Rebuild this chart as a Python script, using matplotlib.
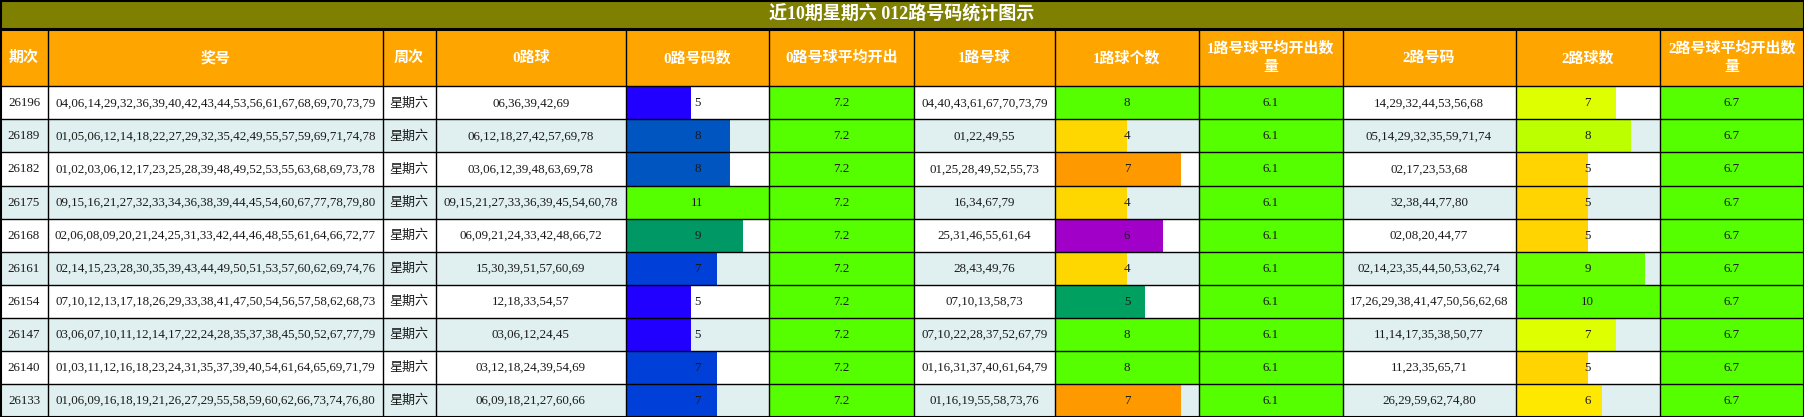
import numpy as np
import matplotlib
matplotlib.use("Agg")
import matplotlib.pyplot as plt
from matplotlib.patches import Rectangle

plt.rcParams['font.family'] = ['Liberation Serif', 'Noto Sans CJK SC', 'DejaVu Sans']

title = "近10期星期六 012路号码统计图示"
headers = ["期次", "奖号", "周次", "0路球", "0路号码数", "0路号球平均开出",
           "1路号球", "1路球个数", "1路号球平均开出数\n量", "2路号码", "2路球数",
           "2路号球平均开出数\n量"]

periods = ["26196", "26189", "26182", "26175", "26168", "26161", "26154", "26147", "26140", "26133"]
draws = [
    "04,06,14,29,32,36,39,40,42,43,44,53,56,61,67,68,69,70,73,79",
    "01,05,06,12,14,18,22,27,29,32,35,42,49,55,57,59,69,71,74,78",
    "01,02,03,06,12,17,23,25,28,39,48,49,52,53,55,63,68,69,73,78",
    "09,15,16,21,27,32,33,34,36,38,39,44,45,54,60,67,77,78,79,80",
    "02,06,08,09,20,21,24,25,31,33,42,44,46,48,55,61,64,66,72,77",
    "02,14,15,23,28,30,35,39,43,44,49,50,51,53,57,60,62,69,74,76",
    "07,10,12,13,17,18,26,29,33,38,41,47,50,54,56,57,58,62,68,73",
    "03,06,07,10,11,12,14,17,22,24,28,35,37,38,45,50,52,67,77,79",
    "01,03,11,12,16,18,23,24,31,35,37,39,40,54,61,64,65,69,71,79",
    "01,06,09,16,18,19,21,26,27,29,55,58,59,60,62,66,73,74,76,80",
]
weekday = "星期六"
road0 = ["06,36,39,42,69", "06,12,18,27,42,57,69,78", "03,06,12,39,48,63,69,78",
         "09,15,21,27,33,36,39,45,54,60,78", "06,09,21,24,33,42,48,66,72",
         "15,30,39,51,57,60,69", "12,18,33,54,57", "03,06,12,24,45",
         "03,12,18,24,39,54,69", "06,09,18,21,27,60,66"]
road1 = ["04,40,43,61,67,70,73,79", "01,22,49,55", "01,25,28,49,52,55,73", "16,34,67,79",
         "25,31,46,55,61,64", "28,43,49,76", "07,10,13,58,73", "07,10,22,28,37,52,67,79",
         "01,16,31,37,40,61,64,79", "01,16,19,55,58,73,76"]
road2 = ["14,29,32,44,53,56,68", "05,14,29,32,35,59,71,74", "02,17,23,53,68", "32,38,44,77,80",
         "02,08,20,44,77", "02,14,23,35,44,50,53,62,74", "17,26,29,38,41,47,50,56,62,68",
         "11,14,17,35,38,50,77", "11,23,35,65,71", "26,29,59,62,74,80"]
count0 = [5, 8, 8, 11, 9, 7, 5, 5, 7, 7]
count1 = [8, 4, 7, 4, 6, 4, 5, 8, 8, 7]
count2 = [7, 8, 5, 5, 5, 9, 10, 7, 5, 6]
avg0, avg1, avg2 = "7.2", "6.1", "6.7"
color0 = ["#2200ff", "#0055c0", "#0055c0", "#55ff00", "#009966",
          "#0040d8", "#2200ff", "#2200ff", "#0040d8", "#0040d8"]
color1 = ["#55ff00", "#ffd700", "#ff9900", "#ffd700", "#a000c8",
          "#ffd700", "#00a060", "#55ff00", "#55ff00", "#ff9900"]
color2 = ["#ddff00", "#bbff00", "#ffd400", "#ffd400", "#ffd400",
          "#66ff00", "#55ff00", "#ddff00", "#ffd400", "#ffe800"]

# layout (pixels)
edges = [0, 48, 382.5, 435.5, 626, 769, 913.5, 1055, 1199, 1342.5, 1515.5, 1659.5, 1804]
W, H = 1804, 417
title_h = 28.5
head_b = 86.3
n = len(periods)
row_h = (H - head_b) / n
GREEN = "#55ff00"
LIGHT = "#e0f0f0"

fig = plt.figure(figsize=(W / 100, H / 100), dpi=100)
ax = fig.add_axes([0, 0, 1, 1])
ax.set_xlim(0, W)
ax.set_ylim(H, 0)
ax.axis('off')

ax.add_patch(Rectangle((0, 0), W, title_h, color="#808000", zorder=0))
ax.add_patch(Rectangle((0, title_h), W, head_b - title_h, color="#ffa500", zorder=0))
ax.text(W / 2, title_h / 2 + 0.5, title, color="white", fontsize=13, fontweight="bold",
        ha="center", va="center")

# header labels, wrapped ones drawn line by line
head_c = (title_h + head_b) / 2 + 0.5
for j, h in enumerate(headers):
    lines = h.split("\n")
    offs = np.arange(len(lines)) * 19.5
    offs = offs - offs.mean()
    for line, dy in zip(lines, offs):
        ax.text((edges[j] + edges[j + 1]) / 2, head_c + dy, line, color="white",
                fontsize=10.8, fontweight="bold", ha="center", va="center")

yc = head_b + row_h * (np.arange(n) + 0.5)
bg = ["white" if i % 2 == 0 else LIGHT for i in range(n)]
ax.barh(yc, W, left=0, height=row_h, color=bg, zorder=1)
for j in (5, 8, 11):
    ax.barh(yc, edges[j + 1] - edges[j], left=edges[j], height=row_h, color=GREEN, zorder=1)

for j, vals, cols in ((4, count0, color0), (7, count1, color1), (10, count2, color2)):
    colw = edges[j + 1] - edges[j]
    v = np.array(vals, dtype=float)
    ax.barh(yc, v / v.max() * colw, left=edges[j], height=row_h, color=cols, zorder=2)

columns = [periods, draws, [weekday] * n, road0, [str(c) for c in count0], [avg0] * n,
           road1, [str(c) for c in count1], [avg1] * n, road2, [str(c) for c in count2], [avg2] * n]
for j, col in enumerate(columns):
    xc = (edges[j] + edges[j + 1]) / 2
    for i, s in enumerate(col):
        ax.text(xc, yc[i] + 0.5, s, fontsize=9.4, color="#1a1a1a", ha="center", va="center", zorder=4)

# grid lines
lw = 1.0
ax.plot([0, W], [0.5, 0.5], color="black", lw=1.5, zorder=5)
ax.plot([0, W], [title_h, title_h], color="black", lw=2.2, zorder=5)
ax.plot([0, W], [H - 0.5, H - 0.5], color="black", lw=1.5, zorder=5)
for i in range(n + 1):
    y = head_b + i * row_h
    ax.plot([0, W], [y, y], color="black", lw=lw, zorder=5)
for j, x in enumerate(edges):
    x = min(max(x, 0.5), W - 0.5)
    y0 = 0 if j in (0, len(edges) - 1) else title_h
    ax.plot([x, x], [y0, H], color="black", lw=lw if 0 < j < len(edges) - 1 else 1.5, zorder=5)

fig.savefig("out.png", dpi=100)
